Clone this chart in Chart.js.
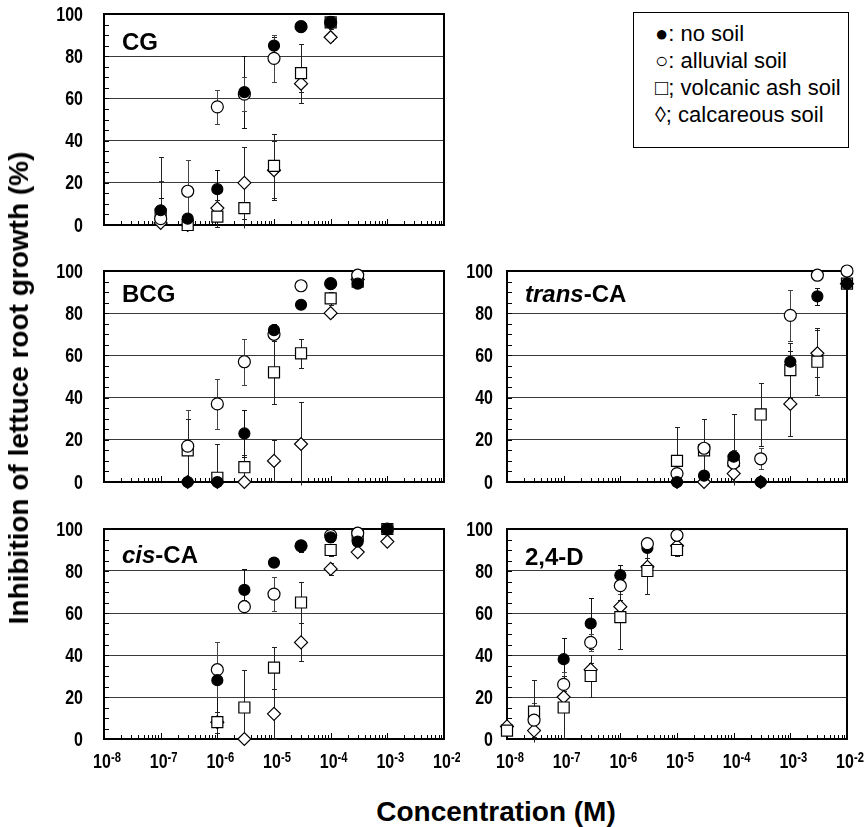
<!DOCTYPE html>
<html>
<head>
<meta charset="utf-8">
<title>Inhibition of lettuce root growth</title>
<script src="https://cdn.jsdelivr.net/npm/chart.js@4.4.1/dist/chart.umd.min.js"></script>
<style>
  body { margin: 0; background: #fff; }
  #page { position: relative; width: 867px; height: 827px; overflow: hidden; font-family: "Liberation Sans", Arial, sans-serif; color: #000; }
  #page canvas { position: absolute; }
  #legend { position: absolute; left: 633px; top: 12px; width: 216px; height: 136px; box-sizing: border-box; border: 1.5px solid #000; padding: 7px 0 0 21px; font-size: 22px; line-height: 27px; }
  #ytitle { position: absolute; left: 19px; top: 388px; transform: translate(-50%, -50%) rotate(-90deg); font-weight: bold; font-size: 28px; white-space: nowrap; }
  #xtitle { position: absolute; left: 496px; top: 796px; transform: translateX(-50%); font-weight: bold; font-size: 28px; white-space: nowrap; }
</style>
</head>
<body>
<div id="page">
  <canvas id="cg"></canvas>
  <canvas id="bcg"></canvas>
  <canvas id="trans"></canvas>
  <canvas id="cis"></canvas>
  <canvas id="d24"></canvas>
  <div id="legend">
    <div>●: no soil</div>
    <div>○: alluvial soil</div>
    <div>□; volcanic ash soil</div>
    <div>◊; calcareous soil</div>
  </div>
  <div id="ytitle">Inhibition of lettuce root growth (%)</div>
  <div id="xtitle">Concentration (M)</div>
</div>
<script>
const NUM_FONT = "'Liberation Sans', Arial, sans-serif";
const NARROW = 0.8; // the figure's numbers are a condensed face

const SERIES = ['no soil', 'alluvial soil', 'volcanic ash soil', 'calcareous soil'];

// axis ticks
const xTickValues = [1e-8, 1e-7, 1e-6, 1e-5, 1e-4, 1e-3, 1e-2];
const xTickExponents = ['-8', '-7', '-6', '-5', '-4', '-3', '-2'];
const yTickValues = [0, 20, 40, 60, 80, 100];

// CG
const cgConc = [1e-7, 3e-7, 1e-6, 3e-6, 1e-5, 3e-5, 1e-4];
const cgNoSoil = [7, 3, 17, 63, 85, 94, 96];
const cgNoSoilErr = [6, 2, 9, 17, 4, 1, 2];
const cgAlluvial = [3, 16, 56, 62, 79, 94, 96];
const cgAlluvialErr = [18, 15, 8, 8, 11, 0, 0];
const cgVolcanic = [5, 0, 4, 8, 28, 72, 96];
const cgVolcanicErr = [27, 0, 5, 10, 15, 14, 3];
const cgCalcareous = [1, 0, 8, 20, 26, 67, 89];
const cgCalcareousErr = [4, 0, 4, 17, 14, 4, 2];

// BCG
const bcgConc = [3e-7, 1e-6, 3e-6, 1e-5, 3e-5, 1e-4, 3e-4];
const bcgNoSoil = [0, 0, 23, 72, 84, 94, 94];
const bcgNoSoilErr = [0, 0, 11, 3, 2, 1, 1];
const bcgAlluvial = [17, 37, 57, 70, 93, 94, 98];
const bcgAlluvialErr = [17, 12, 11, 3, 0, 0, 2];
const bcgVolcanic = [15, 2, 7, 52, 61, 87, 95];
const bcgVolcanicErr = [15, 16, 6, 15, 7, 3, 1];
const bcgCalcareous = [0, 0, 0, 10, 18, 80, 96];
const bcgCalcareousErr = [0, 0, 0, 10, 20, 2, 1];

// trans-CA
const transConc = [1e-5, 3e-5, 1e-4, 3e-4, 1e-3, 3e-3, 1e-2];
const transNoSoil = [0, 3, 12, 0, 57, 88, 94];
const transNoSoilErr = [0, 2, 2, 0, 5, 4, 1];
const transAlluvial = [4, 16, 9, 11, 79, 98, 100];
const transAlluvialErr = [6, 14, 6, 5, 12, 2, 0];
const transVolcanic = [10, 15, 10, 32, 53, 57, 94];
const transVolcanicErr = [16, 15, 22, 15, 13, 16, 1];
const transCalcareous = [0, 0, 4, 0, 37, 61, 94];
const transCalcareousErr = [0, 0, 4, 0, 15, 11, 0];

// cis-CA
const cisConc = [1e-6, 3e-6, 1e-5, 3e-5, 1e-4, 3e-4, 1e-3];
const cisNoSoil = [28, 71, 84, 92, 96, 94, 100];
const cisNoSoilErr = [18, 10, 1, 3, 2, 2, 0];
const cisAlluvial = [33, 63, 69, 92, 97, 98, 100];
const cisAlluvialErr = [13, 3, 8, 2, 2, 2, 0];
const cisVolcanic = [8, 15, 34, 65, 90, 97, 100];
const cisVolcanicErr = [5, 18, 10, 10, 3, 2, 0];
const cisCalcareous = [8, 0, 12, 46, 81, 89, 94];
const cisCalcareousErr = [5, 0, 12, 9, 3, 1, 1];

// 2,4-D
const d24Conc = [1e-8, 3e-8, 1e-7, 3e-7, 1e-6, 3e-6, 1e-5];
const d24NoSoil = [null, null, 38, 55, 78, 91, 97];
const d24NoSoilErr = [0, 0, 10, 12, 5, 2, 1];
const d24Alluvial = [null, 9, 26, 46, 73, 93, 97];
const d24AlluvialErr = [0, 8, 6, 4, 4, 2, 1];
const d24Volcanic = [4, 13, 15, 30, 58, 80, 90];
const d24VolcanicErr = [2, 15, 15, 10, 15, 11, 3];
const d24Calcareous = [6, 4, 20, 33, 63, 82, 92];
const d24CalcareousErr = [2, 3, 3, 3, 3, 4, 1];

const panels = [
  { id: 'cg', italic: '', title: 'CG', conc: cgConc,
    values: [cgNoSoil, cgAlluvial, cgVolcanic, cgCalcareous],
    errors: [cgNoSoilErr, cgAlluvialErr, cgVolcanicErr, cgCalcareousErr] },
  { id: 'bcg', italic: '', title: 'BCG', conc: bcgConc,
    values: [bcgNoSoil, bcgAlluvial, bcgVolcanic, bcgCalcareous],
    errors: [bcgNoSoilErr, bcgAlluvialErr, bcgVolcanicErr, bcgCalcareousErr] },
  { id: 'trans', italic: 'trans', title: '-CA', conc: transConc,
    values: [transNoSoil, transAlluvial, transVolcanic, transCalcareous],
    errors: [transNoSoilErr, transAlluvialErr, transVolcanicErr, transCalcareousErr] },
  { id: 'cis', italic: 'cis', title: '-CA', conc: cisConc,
    values: [cisNoSoil, cisAlluvial, cisVolcanic, cisCalcareous],
    errors: [cisNoSoilErr, cisAlluvialErr, cisVolcanicErr, cisCalcareousErr] },
  { id: 'd24', italic: '', title: '2,4-D', conc: d24Conc,
    values: [d24NoSoil, d24Alluvial, d24Volcanic, d24Calcareous],
    errors: [d24NoSoilErr, d24AlluvialErr, d24VolcanicErr, d24CalcareousErr] }
];

// where each panel sits on the page
const layout = {
  cg:    { left: 30,  top: 0,   w: 430, h: 237, yw: 74, padTop: 14, padRight: 16, xh: 12, gap: 21, xLabels: false, titleDy: 36, order: [0, 1, 2, 3] },
  bcg:   { left: 30,  top: 255, w: 430, h: 239, yw: 74, padTop: 16, padRight: 16, xh: 12, gap: 21, xLabels: false, titleDy: 31, order: [0, 1, 2, 3] },
  trans: { left: 440, top: 255, w: 425, h: 239, yw: 67, padTop: 16, padRight: 18, xh: 12, gap: 14, xLabels: false, titleDy: 31, order: [0, 1, 2, 3] },
  cis:   { left: 30,  top: 513, w: 430, h: 266, yw: 74, padTop: 16, padRight: 16, xh: 40, gap: 21, xLabels: true,  titleDy: 34, order: [0, 1, 2, 3] },
  d24:   { left: 440, top: 513, w: 425, h: 266, yw: 67, padTop: 16, padRight: 18, xh: 40, gap: 14, xLabels: true,  titleDy: 36, order: [1, 0, 2, 3] }
};

const markers = [
  { pointStyle: 'circle',  radius: 5.5, bg: '#000', err: '#111' },
  { pointStyle: 'circle',  radius: 6,   bg: '#fff', err: '#444' },
  { pointStyle: 'rect',    radius: 7.8, bg: '#fff', err: '#222' },
  { pointStyle: 'rectRot', radius: 6.5, bg: '#fff', err: '#222' }
];

// draw text squeezed horizontally
function narrowText(ctx, text, x, y, align) {
  ctx.save();
  ctx.translate(x, y);
  ctx.scale(NARROW, 1);
  ctx.textAlign = align;
  ctx.fillText(text, 0, 0);
  ctx.restore();
}

// frame, inner ticks, error bars, panel name and tick labels
const panelDeco = {
  id: 'panelDeco',
  beforeDatasetsDraw(chart) {
    const { ctx, chartArea: a, scales: { x, y } } = chart;
    ctx.save();
    ctx.strokeStyle = '#000';
    ctx.lineWidth = 2;
    ctx.strokeRect(a.left, a.top, a.right - a.left, a.bottom - a.top);

    ctx.lineWidth = 1;
    ctx.beginPath();
    for (let v = 5; v < 100; v += 5) {
      const py = Math.round(y.getPixelForValue(v)) + 0.5;
      ctx.moveTo(a.left, py);
      ctx.lineTo(a.left + 5, py);
    }
    for (let e = -8; e < -2; e++) {
      for (let m = 1; m <= 9; m++) {
        const px = Math.round(x.getPixelForValue(m * Math.pow(10, e))) + 0.5;
        ctx.moveTo(px, a.bottom);
        ctx.lineTo(px, a.bottom - (m === 1 ? 6 : 4));
      }
    }
    ctx.stroke();

    chart.data.datasets.forEach((ds, i) => {
      const meta = chart.getDatasetMeta(i);
      ctx.strokeStyle = ds.errColor;
      ctx.beginPath();
      ds.data.forEach((d, j) => {
        if (!d.err) return;
        const px = Math.round(meta.data[j].x) + 0.5;
        const hi = Math.min(d.y + d.err, 101), lo = Math.max(d.y - d.err, -1.5);
        const y1 = Math.round(y.getPixelForValue(hi)) + 0.5;
        const y2 = Math.round(y.getPixelForValue(lo)) + 0.5;
        ctx.moveTo(px, y1); ctx.lineTo(px, y2);
        ctx.moveTo(px - 2.5, y1); ctx.lineTo(px + 2.5, y1);
        if (lo > -1.5) { ctx.moveTo(px - 2.5, y2); ctx.lineTo(px + 2.5, y2); }
      });
      ctx.stroke();
    });
    ctx.restore();
  },
  afterDraw(chart, args, opts) {
    const { ctx, chartArea: a, scales: { x, y } } = chart;
    ctx.save();
    ctx.fillStyle = '#000';
    ctx.textBaseline = 'alphabetic';
    ctx.textAlign = 'left';

    // panel name
    let tx = a.left + 18;
    const ty = a.top + opts.titleDy;
    if (opts.italic) {
      ctx.font = "italic bold 24px 'Liberation Sans', Arial, sans-serif";
      ctx.fillText(opts.italic, tx, ty);
      tx += ctx.measureText(opts.italic).width;
    }
    ctx.font = "bold 24px 'Liberation Sans', Arial, sans-serif";
    ctx.fillText(opts.title, tx, ty);

    // y labels
    ctx.font = 'bold 20px ' + NUM_FONT;
    ctx.textBaseline = 'middle';
    yTickValues.forEach(v => {
      narrowText(ctx, String(v), a.left - opts.gap, y.getPixelForValue(v) + 1, 'right');
    });

    // 10^n labels
    ctx.textBaseline = 'alphabetic';
    if (opts.xLabels) {
      xTickValues.forEach((v, k) => {
        const px = x.getPixelForValue(v);
        ctx.font = 'bold 20px ' + NUM_FONT;
        const w1 = ctx.measureText('10').width * NARROW;
        ctx.font = 'bold 14px ' + NUM_FONT;
        const w2 = ctx.measureText(xTickExponents[k]).width * NARROW;
        const x0 = px - (w1 + w2) / 2 + 3;
        ctx.font = 'bold 20px ' + NUM_FONT;
        narrowText(ctx, '10', x0, a.bottom + 29, 'left');
        ctx.font = 'bold 14px ' + NUM_FONT;
        narrowText(ctx, xTickExponents[k], x0 + w1, a.bottom + 23, 'left');
      });
    }
    ctx.restore();
  }
};

panels.forEach(p => {
  const L = layout[p.id];
  const canvas = document.getElementById(p.id);
  canvas.width = L.w;
  canvas.height = L.h;
  canvas.style.left = L.left + 'px';
  canvas.style.top = L.top + 'px';

  const datasets = SERIES.map((name, i) => ({
    label: name,
    data: p.conc
      .map((c, j) => ({ x: c, y: p.values[i][j], err: p.errors[i][j] }))
      .filter(d => d.y !== null),
    order: L.order[i],
    pointStyle: markers[i].pointStyle,
    pointRadius: markers[i].radius,
    pointHoverRadius: markers[i].radius,
    pointBackgroundColor: markers[i].bg,
    pointBorderColor: '#000',
    pointBorderWidth: 1.2,
    errColor: markers[i].err,
    showLine: false,
    clip: false
  }));

  new Chart(canvas, {
    type: 'scatter',
    data: { datasets },
    options: {
      responsive: false,
      animation: false,
      devicePixelRatio: 1,
      layout: { padding: { top: L.padTop, right: L.padRight, left: 0, bottom: 0 } },
      plugins: {
        legend: { display: false },
        tooltip: { enabled: false },
        panelDeco: { title: p.title, italic: p.italic, titleDy: L.titleDy, xLabels: L.xLabels, gap: L.gap }
      },
      scales: {
        x: {
          type: 'logarithmic',
          min: 1e-8,
          max: 1e-2,
          grid: { display: false },
          border: { display: false },
          ticks: { display: false },
          afterBuildTicks: s => { s.ticks = xTickValues.map(v => ({ value: v })); },
          afterFit: s => { s.height = L.xh; }
        },
        y: {
          min: 0,
          max: 100,
          ticks: { stepSize: 20, display: false },
          grid: {
            drawTicks: false,
            lineWidth: 1,
            color: c => (c.tick.value === 0 || c.tick.value === 100) ? 'rgba(0,0,0,0)' : '#3a3a3a'
          },
          border: { display: false },
          afterFit: s => { s.width = L.yw; }
        }
      }
    },
    plugins: [panelDeco]
  });
});
</script>
</body>
</html>
